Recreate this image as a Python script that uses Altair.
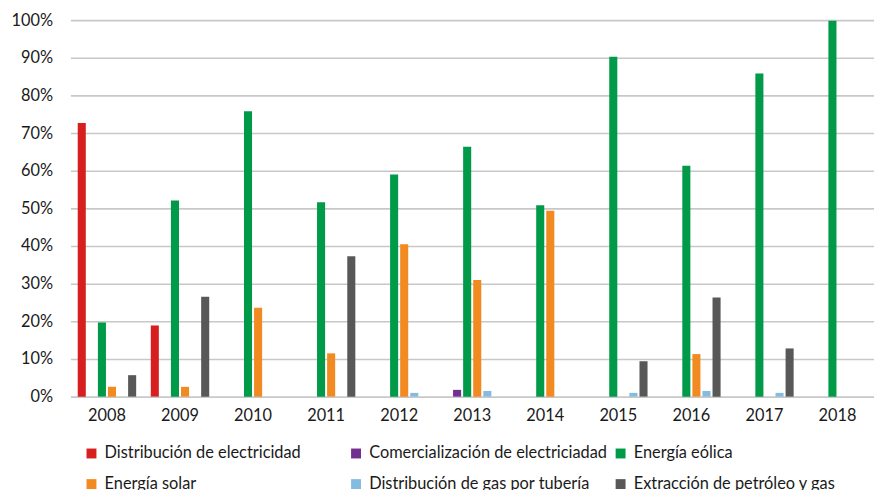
import altair as alt
import pandas as pd

years = ["2008", "2009", "2010", "2011", "2012", "2013", "2014", "2015", "2016", "2017", "2018"]
series = [
    "Distribución de electricidad",
    "Comercialización de electriciadad",
    "Energía eólica",
    "Energía solar",
    "Distribución de gas por tubería",
    "Extracción de petróleo y gas",
]
colors = ["#d71f1f", "#71308f", "#009a48", "#f28a22", "#85bbe0", "#585858"]

dist_elec = [72.7, 18.9, 0, 0, 0, 0, 0, 0, 0, 0, 0]
comercial = [0, 0, 0, 0, 0, 1.8, 0, 0, 0, 0, 0]
eolica = [19.7, 52.1, 75.8, 51.6, 59.0, 66.4, 50.8, 90.3, 61.3, 85.8, 99.8]
solar = [2.6, 2.6, 23.6, 11.5, 40.5, 31.0, 49.4, 0, 11.3, 0, 0]
gas = [0, 0, 0, 0, 1.0, 1.5, 0, 1.0, 1.5, 1.0, 0]
petroleo = [5.7, 26.5, 0, 37.3, 0, 0, 0, 9.4, 26.3, 12.8, 0]

values = [dist_elec, comercial, eolica, solar, gas, petroleo]
rows = []
for s, vals in zip(series, values):
    for y, v in zip(years, vals):
        rows.append({"Año": y, "Serie": s, "Valor": v / 100})
df = pd.DataFrame(rows)

FONT = "Lato"

chart = (
    alt.Chart(df)
    .mark_bar()
    .encode(
        x=alt.X(
            "Año:N",
            sort=years,
            title=None,
            scale=alt.Scale(paddingInner=0.2, paddingOuter=0.1),
            axis=alt.Axis(
                labelAngle=0,
                ticks=False,
                domain=False,
                labelPadding=11,
                labelFontSize=16.5,
                labelColor="#1a1a1a",
                grid=False,
            ),
        ),
        xOffset=alt.XOffset(
            "Serie:N",
            sort=series,
            scale=alt.Scale(paddingInner=0.2, paddingOuter=0),
        ),
        y=alt.Y(
            "Valor:Q",
            title=None,
            scale=alt.Scale(domain=[0, 1], nice=False),
            axis=alt.Axis(
                values=[i / 10 for i in range(11)],
                format=".0%",
                ticks=False,
                domain=False,
                labelPadding=18,
                labelFontSize=16.5,
                labelColor="#1a1a1a",
                gridColor="#c8c8c8",
                gridWidth=1.6,
            ),
        ),
        color=alt.Color(
            "Serie:N",
            sort=series,
            scale=alt.Scale(domain=series, range=colors),
            legend=alt.Legend(
                title=None,
                orient="none",
                legendX=13,
                legendY=429,
                direction="horizontal",
                columns=3,
                gridAlign="all",
                symbolType="square",
                symbolSize=100,
                symbolStrokeWidth=0,
                labelFontSize=16.5,
                labelColor="#1a1a1a",
                labelOffset=5,
                columnPadding=5,
                rowPadding=14,
                labelLimit=400,
            ),
        ),
    )
    .properties(
        width=811,
        height=380,
        autosize=alt.AutoSizeParams(type="none"),
        padding={"left": 63, "top": 10, "right": 0, "bottom": 92},
    )
    .configure(font=FONT)
    .configure_view(stroke=None)
)

chart.save("out.html", embed_options={"renderer": "svg", "actions": False})
